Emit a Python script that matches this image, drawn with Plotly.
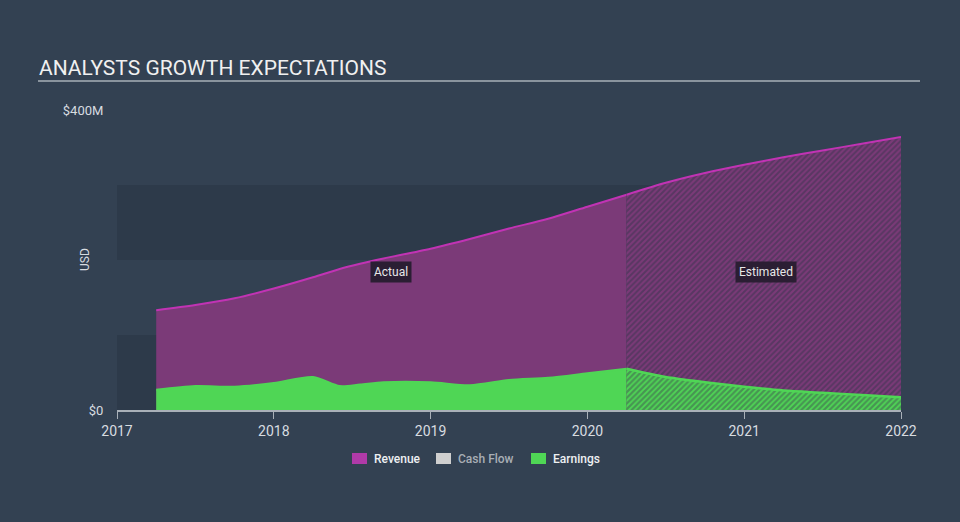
import plotly.graph_objects as go

# Actual period (decimal years)
actual_x = [2017.25, 2017.5, 2017.75, 2018.0, 2018.25, 2018.42, 2018.55, 2018.7, 2019.0, 2019.25, 2019.5, 2019.75, 2020.0, 2020.25]
actual_revenue = [133, 140, 149, 162, 177, 188, 195, 202, 215, 228, 242, 255, 271, 287]
actual_earnings = [27, 32, 31, 36, 44, 32, 34, 37, 37, 33, 40, 43, 49, 55]

# Estimated period
est_x = [2020.25, 2020.5, 2020.75, 2021.0, 2021.25, 2021.5, 2021.75, 2022.0]
est_revenue = [287, 303, 316, 327, 337, 346, 355, 364]
est_earnings = [55, 44, 37, 31, 26, 23, 20, 17]

year_ticks = [2017, 2018, 2019, 2020, 2021, 2022]
y_ticks = [0, 400]
y_tick_labels = ["$0", "$400M"]

legend_names = ["Revenue", "Cash Flow", "Earnings"]
legend_colors = ["#b03aa8", "#cfcfcf", "#4fd655"]
legend_text_colors = ["#eef0f2", "#a9aeb5", "#eef0f2"]

BG = "#334152"
REV_LINE = "#c133b4"
REV_FILL = "#7b3a78"
EARN = "#4fd655"

W, H = 960, 522
L, R, T, B = 117, 59, 110, 112
PW, PH = W - L - R, H - T - B


def px(x):
    return (x - L) / PW


def py(y):
    return (H - B - y) / PH


fig = go.Figure()

fig.add_trace(go.Scatter(x=actual_x, y=actual_revenue, mode="lines",
                         line=dict(color=REV_LINE, width=2, shape="spline", smoothing=0.8),
                         fill="tozeroy", fillcolor=REV_FILL, showlegend=False, hoverinfo="skip"))
fig.add_trace(go.Scatter(x=est_x, y=est_revenue, mode="lines",
                         line=dict(color=REV_LINE, width=2, shape="spline", smoothing=0.8),
                         fill="tozeroy", fillcolor=REV_FILL,
                         fillpattern=dict(shape="/", bgcolor=REV_FILL, fgcolor="#35334c", size=4, solidity=0.5),
                         showlegend=False, hoverinfo="skip"))
fig.add_trace(go.Scatter(x=actual_x, y=actual_earnings, mode="lines",
                         line=dict(color=EARN, width=2, shape="spline", smoothing=0.8),
                         fill="tozeroy", fillcolor=EARN, showlegend=False, hoverinfo="skip"))
fig.add_trace(go.Scatter(x=est_x, y=est_earnings, mode="lines",
                         line=dict(color=EARN, width=2.5, shape="spline", smoothing=0.8),
                         fill="tozeroy", fillcolor=EARN,
                         fillpattern=dict(shape="/", bgcolor=EARN, fgcolor="#3f5350", size=4, solidity=0.55),
                         showlegend=False, hoverinfo="skip"))

shapes = [
    dict(type="rect", xref="x", yref="y", x0=2017, x1=2022, y0=200, y1=300, fillcolor="#2d3a4a", line_width=0, layer="below"),
    dict(type="rect", xref="x", yref="y", x0=2017, x1=2022, y0=0, y1=100, fillcolor="#2d3a4a", line_width=0, layer="below"),
    dict(type="line", xref="paper", yref="paper", x0=px(38), x1=px(920), y0=py(81), y1=py(81),
         line=dict(color="#a9b0b8", width=1.5)),
]

annotations = [
    dict(text="ANALYSTS GROWTH EXPECTATIONS", xref="paper", yref="paper", x=px(37), y=py(68),
         xanchor="left", yanchor="middle", showarrow=False, font=dict(size=21, color="#f0f0f0", family="Roboto")),
    dict(text="USD", xref="paper", yref="paper", x=px(85), y=py(260), textangle=-90, showarrow=False,
         xanchor="center", yanchor="middle", font=dict(size=12, color="#d8dce0")),
    dict(text="Actual", x=2018.75, y=184, showarrow=False, bgcolor="#2b1e33",
         font=dict(size=12, color="#e8e8e8", family="Roboto"), borderpad=3),
    dict(text="Estimated", x=2021.14, y=184, showarrow=False, bgcolor="#2b1e33",
         font=dict(size=12, color="#e8e8e8", family="Roboto"), borderpad=3),
]

# custom legend
legend_sw_x = [352, 436, 531]
for name, col, tcol, sx in zip(legend_names, legend_colors, legend_text_colors, legend_sw_x):
    shapes.append(dict(type="rect", xref="paper", yref="paper", x0=px(sx), x1=px(sx + 15), y0=py(464), y1=py(453),
                       fillcolor=col, line_width=0))
    annotations.append(dict(text=name, xref="paper", yref="paper", x=px(sx + 20), y=py(458.5), xanchor="left",
                            yanchor="middle", showarrow=False, font=dict(size=12, color=tcol, family="Roboto", weight=500)))

fig.update_layout(
    width=W, height=H,
    paper_bgcolor=BG, plot_bgcolor=BG,
    margin=dict(l=L, r=R, t=T, b=B),
    font=dict(family="Roboto", color="#d8dce0", size=12),
    shapes=shapes, annotations=annotations,
    showlegend=False,
    xaxis=dict(range=[2017, 2022], tickvals=year_ticks, ticktext=[str(t) for t in year_ticks], showgrid=False,
               zeroline=False, showline=True, linecolor="#a9b0b8", linewidth=1.5, ticks="outside", ticklen=7,
               tickcolor="#a9b0b8", tickfont=dict(size=14, color="#d8dce0")),
    yaxis=dict(range=[0, 400], tickvals=y_ticks, ticktext=y_tick_labels, showgrid=False, zeroline=False,
               showline=False, ticks="outside", ticklen=10, tickcolor="rgba(0,0,0,0)",
               tickfont=dict(size=13, color="#d8dce0")),
)

fig.write_html("out.html", config={"displayModeBar": False})

with open("out.html", "r", encoding="utf-8") as f:
    html = f.read()
html = html.replace("<head>", "<head><style>html,body{margin:0;padding:0;overflow:hidden;background:#334152;}</style>", 1)
with open("out.html", "w", encoding="utf-8") as f:
    f.write(html)
